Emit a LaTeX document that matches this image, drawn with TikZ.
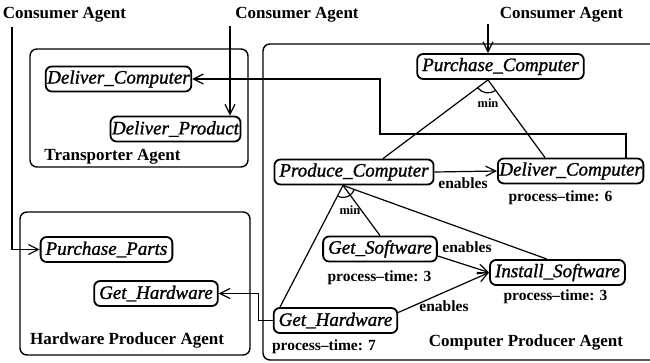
\documentclass[tikz,border=0pt]{standalone}
\usepackage{fontspec}
\setmainfont{Liberation Serif}
\newfontface\taskfont{Liberation Serif Italic}[FakeBold=1.2]
\usetikzlibrary{arrows.meta,calc}
\begin{document}
\begin{tikzpicture}[x=1pt,y=1pt,
  task/.style={draw, line width=1.8pt, rounded corners=6pt, font=\fontsize{19}{22}\selectfont\taskfont, inner xsep=5pt, inner ysep=2pt, minimum height=25pt},
  tight/.style={inner xsep=1.5pt},
  agentbox/.style={draw, line width=1.4pt, rounded corners=7pt, inner sep=0pt},
  lbl/.style={font=\fontsize{17}{20}\selectfont\bfseries, inner sep=0pt},
  small/.style={font=\fontsize{15.5}{18}\selectfont\bfseries, inner sep=0pt},
  minl/.style={font=\fontsize{12.5}{14}\selectfont\bfseries, inner sep=0pt},
  conn/.style={line width=1.2pt},
  arr/.style={conn, -{Straight Barb[length=10pt,width=10pt,line width=1.2pt]}},
]
\useasboundingbox (0,0) rectangle (650,-363);
\clip (0,0) rectangle (650,-363);
% agent containers
\node[agentbox, minimum width=218pt, minimum height=118pt] (tbox) at (139,-108) {};
\node[agentbox, minimum width=230pt, minimum height=143pt] (hbox) at (135,-283.5) {};
\node[agentbox, minimum width=417pt, minimum height=316pt] (cbox) at (471.5,-202) {};
% labels
\node[lbl] (ca1) at (64.5,-15) {Consumer Agent};
\node[lbl] (ca2) at (297,-15) {Consumer Agent};
\node[lbl] (ca3) at (561.5,-15) {Consumer Agent};
\node[lbl] (ta) at (112.5,-157) {Transporter Agent};
\node[lbl] (ha) at (127,-340) {Hardware Producer Agent};
\node[lbl] (cpa) at (526,-342) {Computer Producer Agent};
% tasks
\node[task,tight] (tDC) at (118.5,-79) {Deliver\_Computer};
\node[task,tight] (tDP) at (175.5,-129) {Deliver\_Product};
\node[task] (hPP) at (106.5,-249.5) {Purchase\_Parts};
\node[task] (hGH) at (156,-293.5) {Get\_Hardware};
\node[task] (cPC) at (500.5,-66.5) {Purchase\_Computer};
\node[task] (cProd) at (354,-172) {Produce\_Computer};
\node[task,tight,anchor=west] (cDC) at (497,-171) {Deliver\_Computer};
\node[task] (cGS) at (380,-249) {Get\_Software};
\node[task] (cIS) at (557.5,-272.5) {Install\_Software};
\node[task] (cGH) at (335.5,-320.5) {Get\_Hardware};
% process times
\node[small] (pt6) at (560.5,-198) {process--time: 6};
\node[small] (pt3a) at (379.5,-278) {process--time: 3};
\node[small] (pt3b) at (555.5,-297) {process--time: 3};
\node[small] (pt7) at (324,-347) {process--time: 7};
% enables
\node[small] (en1) at (463,-183) {enables};
\node[small] (en2) at (467,-247) {enables};
\node[small] (en3) at (444,-306) {enables};
% min
\node[minl] (min1) at (488,-103) {min};
\node[minl] (min2) at (350,-210) {min};
% min trees
\coordinate (a1) at (488,0 |- cPC.south);
\draw[conn] (a1) -- (383,0 |- cProd.north);
\draw[conn] (a1) -- (545,0 |- cDC.north);
\draw[conn] ($(a1)+(217:13)$) arc[start angle=217,end angle=305.8,radius=13];
\coordinate (a2) at (343,0 |- cProd.south);
\draw[conn] (a2) -- (280,0 |- cGH.north);
\draw[conn] (a2) -- (380,0 |- cGS.north);
\draw[conn] (a2) -- (547,0 |- cIS.north);
\draw[conn] ($(a2)+(242:12)$) arc[start angle=242,end angle=341,radius=12];
% enables arrows
\draw[arr] (cProd.east) -- (cDC.west);
\draw[arr] ($(cGS.east)+(0,-7)$) -- (cIS.west);
\draw[arr] ($(cGH.east)+(0,8)$) -- (cIS.west);
% consumer inputs
\coordinate (c1) at (12,-27);
\draw[arr] (c1) |- (hPP.west);
\coordinate (c2) at (230,-26);
\draw[arr] (c2) -- (c2 |- tDP.north);
\coordinate (c3) at (488,-24);
\draw[arr] (c3) -- (c3 |- cPC.north);
% cross-agent links
\draw[arr] (626,0 |- cDC.north) -- (626,-134) -- (380,-134) |- (tDC.east);
\draw[arr] (cGH.west) -- ++(-14,0) |- (hGH.east);
\end{tikzpicture}
\end{document}
